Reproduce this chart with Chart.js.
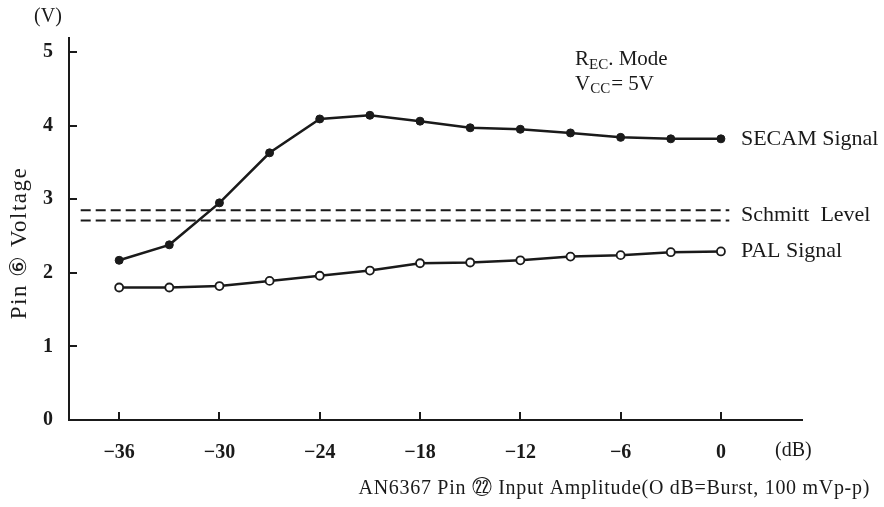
<!DOCTYPE html>
<html>
<head>
<meta charset="utf-8">
<script src="https://cdn.jsdelivr.net/npm/chart.js@4.4.1/dist/chart.umd.min.js"></script>
<style>
  html, body { margin: 0; padding: 0; background: #fff; }
  #wrap { width: 884px; height: 507px; }
</style>
</head>
<body>
<div id="wrap"><canvas id="pinVoltage" width="884" height="507"></canvas></div>
<script>
// input amplitude (dB) for each measured point
const inputDb = [-36, -33, -30, -27, -24, -21, -18, -15, -12, -9, -6, -3, 0];
const secamVolts = [2.17, 2.38, 2.95, 3.63, 4.09, 4.14, 4.06, 3.97, 3.95, 3.90, 3.84, 3.82, 3.82];
const palVolts = [1.80, 1.80, 1.82, 1.89, 1.96, 2.03, 2.13, 2.14, 2.17, 2.22, 2.24, 2.28, 2.29];
// schmitt levels are flat lines across the plot
const schmittDb = [-38.3, 0.5];
const schmittHigh = [2.85, 2.85];
const schmittLow = [2.71, 2.71];
const xTicks = [-36, -30, -24, -18, -12, -6, 0];
const yTicks = [0, 1, 2, 3, 4, 5];

const serif = "'Liberation Serif', 'DejaVu Serif', serif";
const ink = "#1a1a1a";

const pts = (xs, ys) => xs.map((x, i) => ({ x: x, y: ys[i] }));

const labelsPlugin = {
    id: "labels",
    afterDraw(chart) {
        const ctx = chart.ctx;
        const xs = chart.scales.x;
        const ys = chart.scales.y;
        ctx.save();
        ctx.fillStyle = ink;
        ctx.textBaseline = "middle";

        ctx.font = "20px " + serif;
        ctx.textAlign = "center";
        ctx.fillText("(V)", 48, 17);

        ctx.textAlign = "left";
        ctx.fillText("(dB)", 775, 451);

        // curve names next to the last point
        ctx.font = "22px " + serif;
        const lx = xs.getPixelForValue(0) + 20;
        ctx.fillText("SECAM Signal", lx, ys.getPixelForValue(secamVolts[secamVolts.length - 1]));
        ctx.fillText("Schmitt  Level", lx, (ys.getPixelForValue(schmittHigh[1]) + ys.getPixelForValue(schmittLow[1])) / 2);
        ctx.fillText("PAL Signal", lx, ys.getPixelForValue(palVolts[palVolts.length - 1]));

        // mode note with subscripts
        ctx.textBaseline = "alphabetic";
        let x = 575;
        ctx.font = "21px " + serif;
        ctx.fillText("R", x, 65); x += ctx.measureText("R").width;
        ctx.font = "15px " + serif;
        ctx.fillText("EC", x, 69); x += ctx.measureText("EC").width;
        ctx.font = "21px " + serif;
        ctx.fillText(". Mode", x, 65);
        x = 575;
        ctx.fillText("V", x, 90); x += ctx.measureText("V").width;
        ctx.font = "15px " + serif;
        ctx.fillText("CC", x, 93); x += ctx.measureText("CC").width + 1;
        ctx.font = "21px " + serif;
        ctx.fillText("= 5V", x, 90);

        // axis names
        ctx.textBaseline = "middle";
        ctx.font = "20px " + serif;
        ctx.letterSpacing = "0.7px";
        ctx.textAlign = "right";
        ctx.fillText("AN6367 Pin \u3252 Input Amplitude(O dB=Burst, 100 mVp-p)", 870, 489);

        ctx.translate(20, 243);
        ctx.rotate(-Math.PI / 2);
        ctx.textAlign = "center";
        ctx.font = "23px " + serif;
        ctx.letterSpacing = "1.5px";
        ctx.fillText("Pin \u2465 Voltage", 0, 0);
        ctx.restore();
    }
};

new Chart(document.getElementById("pinVoltage"), {
    type: "line",
    data: {
        datasets: [{
            label: "SECAM Signal",
            data: pts(inputDb, secamVolts),
            borderColor: ink,
            borderWidth: 2.5,
            pointRadius: 4,
            pointBackgroundColor: ink,
            pointBorderColor: ink,
            pointBorderWidth: 1
        }, {
            label: "PAL Signal",
            data: pts(inputDb, palVolts),
            borderColor: ink,
            borderWidth: 2.5,
            pointRadius: 4,
            pointBackgroundColor: "#fff",
            pointBorderColor: ink,
            pointBorderWidth: 1.8
        }, {
            label: "Schmitt High",
            data: pts(schmittDb, schmittHigh),
            borderColor: ink,
            borderWidth: 2,
            borderDash: [10, 5],
            pointRadius: 0
        }, {
            label: "Schmitt Low",
            data: pts(schmittDb, schmittLow),
            borderColor: ink,
            borderWidth: 2,
            borderDash: [10, 5],
            pointRadius: 0
        }]
    },
    options: {
        responsive: false,
        animation: false,
        layout: { padding: { left: 0, right: 82, top: 38, bottom: 0 } },
        plugins: { legend: { display: false }, tooltip: { enabled: false } },
        scales: {
            x: {
                type: "linear",
                min: -39,
                max: 4.85,
                afterFit: s => { s.height = 87; },
                afterBuildTicks: s => { s.ticks = xTicks.map(v => ({ value: v })); },
                border: { color: ink, width: 2 },
                grid: { drawOnChartArea: false, tickLength: -8, color: ink, lineWidth: 2 },
                ticks: {
                    padding: 29,
                    color: ink,
                    font: { family: serif, size: 20, weight: "bold" },
                    callback: v => (v < 0 ? "\u2212" + Math.abs(v) : String(v))
                }
            },
            y: {
                min: 0,
                max: 5.19,
                afterFit: s => { s.width = 69; },
                afterBuildTicks: s => { s.ticks = yTicks.map(v => ({ value: v })); },
                border: { color: ink, width: 2 },
                grid: { drawOnChartArea: false, tickLength: -8, color: ink, lineWidth: 2 },
                ticks: {
                    padding: 24,
                    color: ink,
                    font: { family: serif, size: 20, weight: "bold" }
                }
            }
        }
    },
    plugins: [labelsPlugin]
});
</script>
</body>
</html>
